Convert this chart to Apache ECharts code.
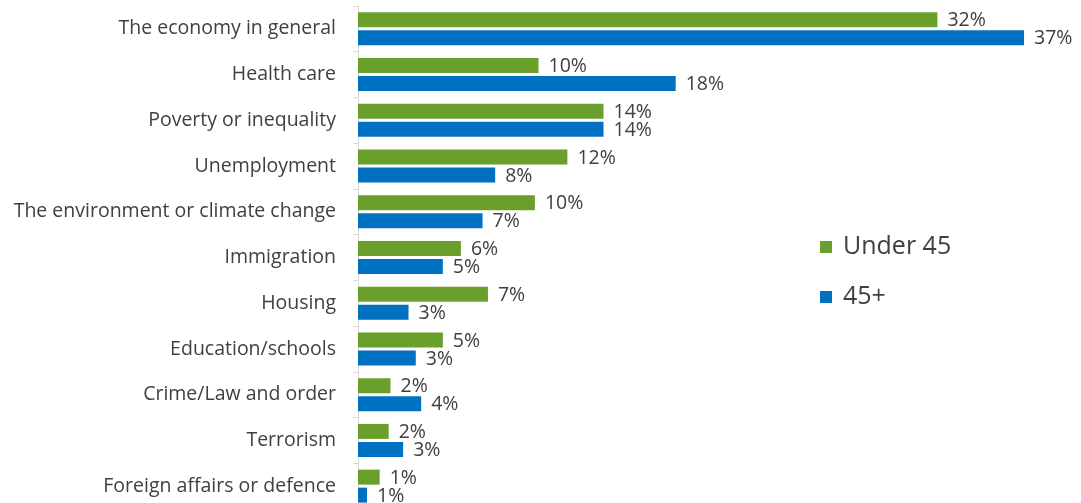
<!DOCTYPE html>
<html><head><meta charset="utf-8">
<script src="https://cdn.jsdelivr.net/npm/echarts@6/dist/echarts.min.js"></script>
<style>html,body{margin:0;padding:0;background:#fff;overflow:hidden}#c{width:1081px;height:520px}</style>
</head><body><div id="c"></div>
<script>
var categories = ["The economy in general","Health care","Poverty or inequality","Unemployment","The environment or climate change","Immigration","Housing","Education/schools","Crime/Law and order","Terrorism","Foreign affairs or defence"];
var under45 = [32.1, 10.0, 13.6, 11.6, 9.8, 5.7, 7.2, 4.7, 1.8, 1.7, 1.2];
var over45 = [36.9, 17.6, 13.6, 7.6, 6.9, 4.7, 2.8, 3.2, 3.5, 2.5, 0.5];
var under45Labels = ["32%","10%","14%","12%","10%","6%","7%","5%","2%","2%","1%"];
var over45Labels = ["37%","18%","14%","8%","7%","5%","3%","3%","4%","3%","1%"];
var FONT = "Open Sans";
var chart = echarts.init(document.getElementById('c'));
function lbl(arr){return {show:true,position:'right',distance:10,offset:[0,1],color:'#404040',fontSize:19.5,fontFamily:FONT,formatter:function(p){return arr[p.dataIndex];}};}
chart.setOption({
  animation:false,
  grid:{left:358,top:6,width:722,height:503,containLabel:false},
  legend:{orient:'vertical',left:820,top:234,padding:0,itemWidth:12,itemHeight:12,itemGap:24,icon:'rect',
    textStyle:{fontSize:25,lineHeight:26,color:'#404040',fontFamily:FONT,padding:[0,0,0,6]},
    data:['Under 45','45+']},
  xAxis:{type:'value',min:0,max:40,show:false},
  yAxis:{type:'category',inverse:true,data:categories,
    axisLine:{show:true,lineStyle:{color:'#d9d9d9'}},
    axisTick:{show:true,length:5,lineStyle:{color:'#d9d9d9'}},
    axisLabel:{color:'#404040',fontSize:19.5,fontFamily:FONT,margin:22}},
  series:[
    {name:'Under 45',type:'bar',data:under45,barWidth:15,barGap:'20%',itemStyle:{color:'#6a9f2b'},label:lbl(under45Labels)},
    {name:'45+',type:'bar',data:over45,barWidth:15,itemStyle:{color:'#0070c0'},label:lbl(over45Labels)}
  ]
});
</script></body></html>
